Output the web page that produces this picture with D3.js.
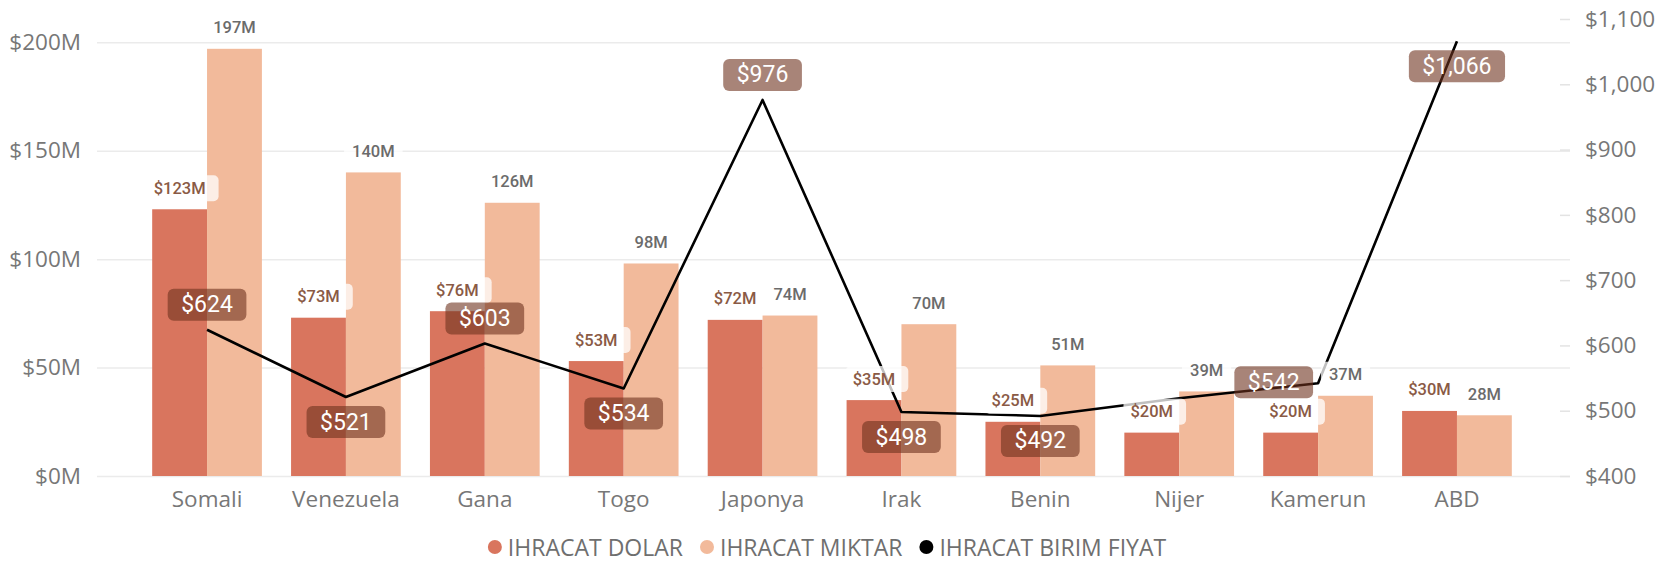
<!DOCTYPE html>
<html>
<head>
<meta charset="utf-8">
<script src="https://cdn.jsdelivr.net/npm/d3@7"></script>
<style>
  body { margin: 0; background: #fff; }
  svg { display: block; }
  .axis text { font-family: "Open Sans", "Noto Sans", sans-serif; font-size: 22.5px; fill: #777; }
  .axis .domain { display: none; }
</style>
</head>
<body>
<svg id="chart" width="1674" height="562"></svg>
<script>
// data
let countries = ["Somali", "Venezuela", "Gana", "Togo", "Japonya", "Irak", "Benin", "Nijer", "Kamerun", "ABD"];
let dolar  = [123, 73, 76, 53, 72, 35, 25, 20, 20, 30];      // $M
let miktar = [197, 140, 126, 98, 74, 70, 51, 39, 37, 28];    // M
let birim  = [624, 521, 603, 534, 976, 498, 492, 519, 542, 1066];
let leftTicks = [0, 50, 100, 150, 200];
let rightTicks = [400, 500, 600, 700, 800, 900, 1000, 1100];
let seriesNames = ["IHRACAT DOLAR", "IHRACAT MIKTAR", "IHRACAT BIRIM FIYAT"];

// where each price label goes (Nijer's is hidden in the original)
let priceLabelSide = ["above", "below", "above", "below", "above", "below", "below", null, "left", "below"];

let colors = { dolar: "#D9755E", miktar: "#F2BA9B", line: "#000" };

let svg = d3.select("#chart");
let plot = { left: 97, right: 1570, top: 42.3, bottom: 476 };

let x = d3.scaleBand()
  .domain(countries)
  .range([137.6, 1526.4])
  .paddingInner(0.21)
  .paddingOuter(0.105);

let xSub = d3.scaleBand()
  .domain(["dolar", "miktar"])
  .range([0, x.bandwidth()]);

let yLeft = d3.scaleLinear().domain([0, 200]).range([plot.bottom, plot.top]);
let yRight = d3.scaleLinear().domain([400, 1100]).range([plot.bottom, 19]);

// left axis + gridlines
let gl = svg.append("g")
  .attr("class", "axis")
  .attr("transform", `translate(${plot.left},0)`)
  .call(d3.axisLeft(yLeft)
    .tickValues(leftTicks)
    .tickSize(-(plot.right - plot.left))
    .tickPadding(16)
    .tickFormat(d => `$${d}M`));
gl.selectAll(".tick line").attr("stroke", "#ebebeb").attr("stroke-width", 1.5);

// right axis
let gr = svg.append("g")
  .attr("class", "axis")
  .attr("transform", `translate(${plot.right - 10},0)`)
  .call(d3.axisRight(yRight)
    .tickValues(rightTicks)
    .tickSize(10)
    .tickPadding(15)
    .tickFormat(d3.format("$,")));
gr.selectAll(".tick line").attr("stroke", "#e3e3e3").attr("stroke-width", 1.5);

// category axis
let gx = svg.append("g")
  .attr("class", "axis")
  .attr("transform", `translate(0,${plot.bottom})`)
  .call(d3.axisBottom(x).tickSize(0).tickPadding(10));
gx.selectAll("text").attr("dy", null).attr("y", 22).attr("dominant-baseline", "central");

// bars
let groups = svg.append("g").selectAll("g")
  .data(countries)
  .join("g")
  .attr("transform", d => `translate(${x(d)},0)`);

groups.append("rect")
  .attr("x", xSub("dolar"))
  .attr("width", xSub.bandwidth())
  .attr("y", (d, i) => yLeft(dolar[i]))
  .attr("height", (d, i) => plot.bottom - yLeft(dolar[i]))
  .attr("fill", colors.dolar);

groups.append("rect")
  .attr("x", xSub("miktar"))
  .attr("width", xSub.bandwidth())
  .attr("y", (d, i) => yLeft(miktar[i]))
  .attr("height", (d, i) => plot.bottom - yLeft(miktar[i]))
  .attr("fill", colors.miktar);

// line
let pts = countries.map((c, i) => [x(c) + x.bandwidth() / 2, yRight(birim[i])]);
svg.append("path")
  .attr("d", d3.line()(pts))
  .attr("fill", "none")
  .attr("stroke", colors.line)
  .attr("stroke-width", 2.6)
  .attr("stroke-linejoin", "round");

// bar labels with faint white box
function boxLabel(g, cx, cy, text, opts) {
  let t = g.append("text")
    .attr("x", cx).attr("y", cy)
    .attr("text-anchor", "middle")
    .attr("dominant-baseline", "central")
    .style("font-family", opts.font)
    .style("font-size", opts.size + "px")
    .style("font-weight", opts.weight || 400)
    .attr("fill", opts.color)
    .text(text);
  let w = t.node().getComputedTextLength() + opts.padX * 2;
  g.insert("rect", "text")
    .attr("x", cx - w / 2 + (opts.shift || 0)).attr("y", cy - opts.h / 2)
    .attr("width", w).attr("height", opts.h)
    .attr("rx", opts.r)
    .attr("fill", opts.bg)
    .attr("fill-opacity", opts.bgOpacity);
  return w;
}

let barLabels = svg.append("g");
countries.forEach((c, i) => {
  let g1 = barLabels.append("g");
  boxLabel(g1, x(c) + xSub("dolar") + xSub.bandwidth() / 2, yLeft(dolar[i]) - 21, `$${dolar[i]}M`,
    { font: "Roboto, sans-serif", size: 16.5, weight: 500, color: "#8a5a45", padX: 10, h: 26, r: 5,
      bg: "#fff", bgOpacity: 0.75, shift: 3 });
  let g2 = barLabels.append("g");
  boxLabel(g2, x(c) + xSub("miktar") + xSub.bandwidth() / 2, yLeft(miktar[i]) - 21, `${miktar[i]}M`,
    { font: "Roboto, sans-serif", size: 16.5, weight: 500, color: "#6b6b6b", padX: 8, h: 26, r: 5,
      bg: "#fff", bgOpacity: 0.75 });
});

// price labels
let priceLabels = svg.append("g");
countries.forEach((c, i) => {
  let side = priceLabelSide[i];
  if (!side) return;
  let [px, py] = pts[i];
  let label = d3.format("$,")(birim[i]);
  let g = priceLabels.append("g");
  let t = g.append("text")
    .attr("text-anchor", "middle")
    .attr("dominant-baseline", "central")
    .style("font-family", "Roboto, sans-serif")
    .style("font-size", "23px")
    .attr("fill", "#fff")
    .text(label);
  let w = t.node().getComputedTextLength() + 27, h = 32;
  let cx = px, cy = py;
  if (side === "above") cy = py - 25;
  if (side === "below") cy = py + 25;
  if (side === "left") { cx = px - 5 - w / 2; cy = py - 1; }
  t.attr("x", cx).attr("y", cy);
  g.insert("rect", "text")
    .attr("x", cx - w / 2).attr("y", cy - h / 2)
    .attr("width", w).attr("height", h)
    .attr("rx", 6)
    .attr("fill", "#6e321e")
    .attr("fill-opacity", 0.6);
});

// legend
let legendColors = [colors.dolar, colors.miktar, colors.line];
let legend = svg.append("g");
let lx = 0;
seriesNames.forEach((name, i) => {
  let item = legend.append("g").attr("transform", `translate(${lx},0)`);
  item.append("circle").attr("cx", 7).attr("cy", 0).attr("r", 7).attr("fill", legendColors[i]);
  let t = item.append("text")
    .attr("x", 20).attr("y", 0)
    .attr("dominant-baseline", "central")
    .style("font-family", "\"Open Sans\", \"Noto Sans\", sans-serif")
    .style("font-size", "23px")
    .attr("fill", "#6f6f6f")
    .text(name);
  lx += 20 + t.node().getComputedTextLength() + 17;
});
let legendW = lx - 17;
legend.attr("transform", `translate(${827 - legendW / 2},547)`);
</script>
</body>
</html>
